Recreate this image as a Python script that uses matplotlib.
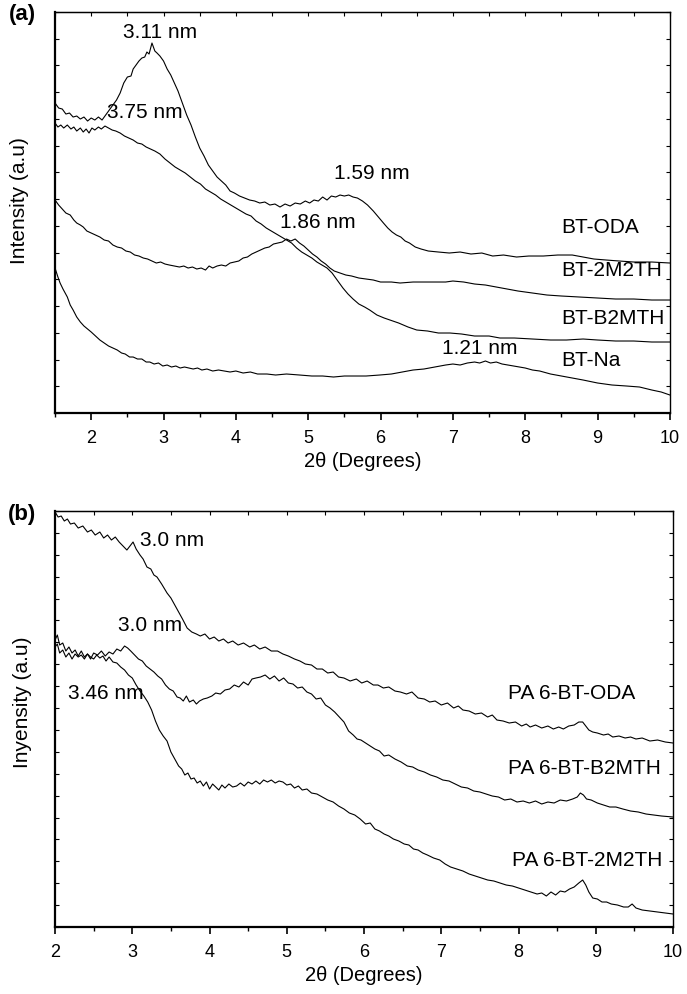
import matplotlib.pyplot as plt
from matplotlib.ticker import MultipleLocator, NullFormatter

plt.rcParams['font.family'] = ['Liberation Sans', 'DejaVu Sans']

# ---- panel (a): modified bentonites, 2theta vs intensity (a.u.) ----
oda_x = [1.50, 1.55, 1.60, 1.65, 1.70, 1.75, 1.80, 1.85, 1.90, 1.95, 2.00, 2.05, 2.10, 2.15, 2.20, 2.25,
         2.30, 2.35, 2.40, 2.45, 2.50, 2.55, 2.58, 2.62, 2.66, 2.70, 2.74, 2.77, 2.80, 2.84, 2.88, 2.91,
         2.95, 3.00, 3.05, 3.10, 3.15, 3.20, 3.26, 3.32, 3.38, 3.44, 3.50, 3.56, 3.62, 3.68, 3.74, 3.80,
         3.86, 3.92, 3.98, 4.05, 4.12, 4.19, 4.26, 4.33, 4.40, 4.47, 4.54, 4.61, 4.68, 4.75, 4.82, 4.89,
         4.96, 5.02, 5.08, 5.14, 5.20, 5.26, 5.32, 5.38, 5.44, 5.50, 5.56, 5.62, 5.68, 5.75, 5.82, 5.90,
         5.97, 6.04, 6.10, 6.16, 6.22, 6.28, 6.34, 6.40, 6.48, 6.56, 6.66, 6.80, 6.95, 7.10, 7.25, 7.40,
         7.55, 7.70, 7.88, 8.05, 8.25, 8.45, 8.65, 8.80, 8.95, 9.12, 9.30, 9.50, 9.75, 10.00]
oda_y = [310, 305, 304, 299, 300, 296, 297, 294, 296, 292, 295, 293, 296, 293, 298, 303,
         308, 313, 320, 330, 336, 337, 344, 348, 352, 355, 356, 361, 359, 370, 362, 360,
         357, 352, 344, 338, 330, 322, 310, 298, 288, 276, 265, 257, 248, 242, 236, 232,
         228, 222, 220, 217, 215, 213, 212, 210, 211, 208, 209, 206, 209, 207, 210, 209,
         212, 210, 213, 212, 216, 213, 217, 216, 218, 217, 218, 216, 215, 212, 208, 202,
         196, 190, 185, 181, 178, 176, 172, 170, 166, 164, 162, 161, 160, 161, 159, 160,
         157, 158, 156, 157, 157, 158, 158, 156, 154, 153, 152, 151, 151, 150]

b2mth_x = [1.50, 1.54, 1.58, 1.62, 1.67, 1.72, 1.76, 1.80, 1.85, 1.89, 1.93, 1.97, 2.01, 2.05, 2.10, 2.14,
           2.19, 2.24, 2.29, 2.34, 2.40, 2.46, 2.52, 2.58, 2.64, 2.70, 2.76, 2.82, 2.88, 2.95, 3.02, 3.09,
           3.16, 3.23, 3.30, 3.37, 3.44, 3.51, 3.58, 3.65, 3.72, 3.79, 3.86, 3.93, 4.00, 4.07, 4.14, 4.21,
           4.28, 4.35, 4.42, 4.49, 4.56, 4.63, 4.70, 4.77, 4.84, 4.91, 4.98, 5.05, 5.12, 5.19, 5.26, 5.33,
           5.40, 5.48, 5.55, 5.62, 5.70, 5.78, 5.85, 5.95, 6.05, 6.13, 6.25, 6.38, 6.50, 6.65, 6.80, 6.96,
           7.12, 7.30, 7.50, 7.65, 7.85, 8.10, 8.35, 8.57, 8.80, 9.00, 9.25, 9.50, 9.75, 10.00]
b2mth_y = [290, 286, 288, 285, 288, 284, 286, 282, 285, 281, 284, 280, 285, 283, 286, 284,
           287, 285, 283, 282, 280, 277, 275, 273, 270, 269, 266, 264, 262, 259, 254, 250,
           246, 243, 240, 236, 232, 229, 224, 221, 218, 214, 211, 208, 205, 202, 199, 197,
           192, 189, 185, 182, 179, 176, 173, 170, 165, 161, 158, 155, 151, 148, 145, 140,
           133, 125, 119, 114, 109, 106, 103, 98, 95, 93, 90, 86, 83, 82, 80, 80,
           79, 77, 77, 75, 75, 74, 73, 73, 74, 73, 72, 72, 71, 71]

m2th_x = [1.50, 1.55, 1.60, 1.65, 1.71, 1.76, 1.80, 1.85, 1.89, 1.94, 2.00, 2.06, 2.12, 2.18, 2.24, 2.30,
          2.36, 2.42, 2.48, 2.54, 2.60, 2.66, 2.72, 2.78, 2.84, 2.90, 2.96, 3.02, 3.08, 3.15, 3.22, 3.28,
          3.34, 3.40, 3.46, 3.52, 3.58, 3.63, 3.68, 3.74, 3.80, 3.86, 3.92, 3.98, 4.04, 4.10, 4.16, 4.22,
          4.28, 4.34, 4.40, 4.46, 4.52, 4.58, 4.64, 4.70, 4.76, 4.82, 4.88, 4.94, 5.00, 5.06, 5.12, 5.18,
          5.24, 5.30, 5.36, 5.44, 5.52, 5.60, 5.70, 5.80, 5.90, 6.00, 6.15, 6.27, 6.45, 6.60, 6.75, 6.90,
          7.00, 7.15, 7.30, 7.45, 7.60, 7.75, 7.90, 8.10, 8.30, 8.50, 8.75, 9.00, 9.25, 9.50, 9.75, 10.00]
m2th_y = [213, 208, 204, 200, 198, 193, 190, 188, 186, 182, 180, 178, 176, 173, 172, 168,
          166, 165, 162, 161, 158, 157, 155, 154, 152, 150, 151, 149, 148, 147, 146, 147,
          145, 146, 144, 145, 143, 147, 145, 147, 148, 147, 150, 151, 152, 155, 156, 159,
          161, 163, 165, 166, 169, 170, 171, 174, 172, 174, 170, 167, 163, 159, 156, 152,
          149, 145, 142, 140, 138, 137, 135, 134, 133, 131, 131, 130, 131, 131, 131, 131,
          132, 131, 129, 128, 126, 124, 122, 120, 118, 117, 116, 115, 114, 114, 113, 113]

na_x = [1.50, 1.54, 1.57, 1.61, 1.64, 1.67, 1.71, 1.75, 1.80, 1.85, 1.90, 1.95, 2.00, 2.06, 2.12, 2.18,
        2.24, 2.30, 2.36, 2.42, 2.47, 2.53, 2.58, 2.64, 2.70, 2.76, 2.81, 2.87, 2.93, 2.99, 3.05, 3.11,
        3.17, 3.23, 3.29, 3.35, 3.41, 3.47, 3.53, 3.60, 3.68, 3.76, 3.84, 3.92, 4.00, 4.10, 4.20, 4.30,
        4.43, 4.55, 4.70, 4.88, 5.05, 5.20, 5.35, 5.50, 5.65, 5.80, 5.99, 6.15, 6.30, 6.45, 6.60, 6.75,
        6.90, 7.00, 7.10, 7.20, 7.30, 7.37, 7.45, 7.52, 7.60, 7.68, 7.76, 7.84, 7.92, 8.00, 8.10, 8.20,
        8.35, 8.50, 8.65, 8.80, 9.00, 9.20, 9.40, 9.58, 9.75, 9.88, 10.00]
na_y = [145, 136, 130, 124, 120, 116, 108, 103, 96, 91, 87, 84, 81, 77, 73, 70,
        67, 65, 63, 60, 59, 56, 56, 54, 54, 51, 51, 49, 50, 47, 48, 46,
        47, 45, 46, 45, 44, 45, 43, 44, 42, 43, 42, 41, 42, 40, 41, 39,
        39, 38, 39, 38, 37, 37, 36, 37, 37, 37, 38, 39, 41, 43, 44, 46,
        48, 49, 48, 50, 51, 50, 52, 50, 51, 49, 48, 47, 46, 45, 43, 42,
        39, 37, 35, 33, 30, 28, 27, 26, 23, 21, 18]

# ---- panel (b): PA 6 nanocomposites ----
pa_oda_x = [2.00, 2.04, 2.08, 2.12, 2.16, 2.20, 2.25, 2.30, 2.36, 2.42, 2.47, 2.52, 2.58, 2.63, 2.68, 2.73,
            2.78, 2.83, 2.88, 2.93, 2.97, 3.01, 3.05, 3.10, 3.14, 3.19, 3.24, 3.28, 3.32, 3.38, 3.45, 3.50,
            3.55, 3.60, 3.65, 3.71, 3.77, 3.83, 3.88, 3.94, 4.00, 4.06, 4.12, 4.18, 4.24, 4.30, 4.37, 4.44,
            4.52, 4.58, 4.65, 4.72, 4.80, 4.88, 4.95, 5.02, 5.10, 5.17, 5.24, 5.32, 5.39, 5.46, 5.53, 5.60,
            5.67, 5.74, 5.82, 5.90, 5.97, 6.04, 6.12, 6.18, 6.25, 6.32, 6.40, 6.47, 6.55, 6.62, 6.70, 6.78,
            6.85, 6.92, 7.00, 7.08, 7.16, 7.22, 7.28, 7.36, 7.44, 7.52, 7.60, 7.66, 7.72, 7.80, 7.88, 7.96,
            8.04, 8.10, 8.15, 8.22, 8.30, 8.38, 8.45, 8.52, 8.58, 8.65, 8.72, 8.78, 8.83, 8.87, 8.91, 8.96,
            9.02, 9.10, 9.16, 9.22, 9.30, 9.38, 9.45, 9.52, 9.60, 9.70, 9.80, 9.90, 10.00]
pa_oda_y = [415, 410, 411, 406, 408, 403, 404, 399, 401, 395, 397, 392, 395, 389, 392, 387,
            390, 385, 381, 377, 381, 385, 378, 372, 368, 360, 358, 352, 350, 343, 334, 329,
            322, 315, 308, 299, 295, 293, 291, 293, 288, 290, 286, 288, 284, 286, 282, 284,
            280, 282, 278, 280, 276, 276, 273, 271, 268, 266, 263, 262, 258, 258, 254, 255,
            250, 249, 246, 248, 244, 246, 242, 242, 239, 240, 236, 235, 233, 235, 229, 228,
            225, 226, 222, 224, 219, 221, 217, 216, 213, 214, 210, 212, 207, 206, 204, 205,
            201, 203, 200, 202, 199, 201, 198, 200, 198, 201, 202, 205, 205, 201, 197, 195,
            194, 192, 193, 190, 191, 189, 190, 188, 189, 186, 187, 185, 184]

pa_b2mth_x = [2.00, 2.03, 2.06, 2.10, 2.14, 2.18, 2.22, 2.26, 2.30, 2.34, 2.38, 2.42, 2.46, 2.50, 2.55, 2.60,
              2.65, 2.70, 2.75, 2.80, 2.85, 2.90, 2.94, 2.98, 3.03, 3.08, 3.13, 3.18, 3.23, 3.28, 3.33, 3.38,
              3.43, 3.48, 3.53, 3.58, 3.62, 3.66, 3.70, 3.74, 3.79, 3.83, 3.87, 3.92, 3.97, 4.03, 4.08, 4.14,
              4.20, 4.26, 4.32, 4.38, 4.44, 4.50, 4.55, 4.60, 4.66, 4.72, 4.78, 4.84, 4.90, 4.96, 5.02, 5.08,
              5.14, 5.20, 5.26, 5.32, 5.38, 5.44, 5.50, 5.56, 5.62, 5.68, 5.74, 5.80, 5.86, 5.91, 5.96, 6.02,
              6.08, 6.14, 6.20, 6.26, 6.32, 6.40, 6.48, 6.56, 6.63, 6.70, 6.78, 6.86, 6.94, 7.02, 7.10, 7.18,
              7.26, 7.34, 7.42, 7.50, 7.58, 7.66, 7.74, 7.82, 7.90, 7.98, 8.06, 8.14, 8.22, 8.30, 8.38, 8.46,
              8.54, 8.62, 8.70, 8.76, 8.80, 8.84, 8.88, 8.94, 9.02, 9.10, 9.18, 9.26, 9.35, 9.45, 9.55, 9.65,
              9.75, 9.85, 10.00]
pa_b2mth_y = [287, 292, 282, 284, 276, 280, 274, 277, 271, 276, 270, 273, 268, 274, 272, 276,
              271, 275, 273, 278, 276, 281, 279, 276, 272, 268, 266, 261, 258, 255, 251, 248,
              242, 238, 236, 230, 229, 226, 231, 225, 227, 223, 226, 228, 229, 231, 234, 233,
              237, 238, 242, 240, 245, 242, 248, 249, 250, 252, 248, 251, 246, 249, 244, 243,
              239, 240, 235, 233, 228, 229, 222, 219, 215, 210, 205, 196, 192, 188, 187, 184,
              181, 178, 176, 171, 172, 168, 165, 161, 160, 157, 155, 152, 150, 147, 146, 143,
              140, 139, 136, 135, 133, 131, 130, 127, 128, 125, 126, 124, 126, 123, 125, 124,
              127, 126, 128, 130, 134, 132, 128, 127, 124, 122, 120, 120, 118, 116, 115, 113,
              112, 111, 110]

pa_m2th_x = [2.00, 2.03, 2.06, 2.10, 2.14, 2.18, 2.22, 2.26, 2.30, 2.34, 2.38, 2.42, 2.46, 2.50, 2.54, 2.58,
             2.62, 2.66, 2.70, 2.75, 2.80, 2.85, 2.90, 2.95, 3.00, 3.05, 3.10, 3.15, 3.20, 3.25, 3.30, 3.35,
             3.40, 3.45, 3.50, 3.55, 3.60, 3.64, 3.68, 3.72, 3.76, 3.80, 3.84, 3.88, 3.92, 3.96, 4.00, 4.04,
             4.08, 4.12, 4.16, 4.20, 4.25, 4.30, 4.35, 4.40, 4.45, 4.50, 4.55, 4.60, 4.65, 4.70, 4.75, 4.80,
             4.85, 4.90, 4.95, 5.00, 5.05, 5.10, 5.15, 5.20, 5.26, 5.32, 5.39, 5.46, 5.53, 5.60, 5.67, 5.74,
             5.81, 5.88, 5.95, 6.02, 6.08, 6.14, 6.20, 6.26, 6.32, 6.38, 6.45, 6.52, 6.58, 6.64, 6.70, 6.76,
             6.82, 6.90, 6.98, 7.05, 7.12, 7.20, 7.28, 7.36, 7.44, 7.52, 7.60, 7.68, 7.76, 7.84, 7.92, 8.00,
             8.08, 8.16, 8.24, 8.30, 8.36, 8.42, 8.48, 8.54, 8.60, 8.66, 8.72, 8.78, 8.83, 8.87, 8.91, 8.96,
             9.02, 9.08, 9.14, 9.20, 9.28, 9.36, 9.42, 9.47, 9.52, 9.60, 9.70, 9.80, 9.90, 10.00]
pa_m2th_y = [280, 283, 274, 277, 270, 274, 268, 273, 270, 272, 268, 273, 270, 268, 272, 269,
             271, 266, 270, 265, 264, 260, 257, 252, 249, 242, 236, 231, 225, 217, 206, 197,
             191, 186, 175, 168, 161, 158, 152, 154, 148, 149, 144, 146, 141, 145, 138, 143,
             140, 137, 142, 139, 143, 140, 141, 144, 141, 145, 143, 146, 143, 147, 145, 147,
             144, 146, 145, 142, 143, 139, 141, 137, 138, 134, 133, 130, 127, 125, 121, 118,
             114, 112, 108, 103, 104, 98, 96, 93, 91, 88, 86, 83, 82, 78, 77, 74,
             72, 69, 67, 63, 60, 58, 56, 53, 51, 49, 47, 46, 44, 42, 41, 39,
             37, 35, 33, 34, 31, 35, 32, 36, 35, 38, 40, 44, 47, 42, 35, 29,
             28, 25, 25, 23, 22, 20, 20, 23, 19, 17, 16, 15, 14, 13]

fig = plt.figure(figsize=(6.87, 9.94), dpi=100)
ax1 = fig.add_axes([0.0801, 0.5845, 0.895, 0.4034])
ax2 = fig.add_axes([0.0801, 0.0674, 0.8996, 0.4185])

lw = 0.8
for x, y in [(oda_x, oda_y), (b2mth_x, b2mth_y), (m2th_x, m2th_y), (na_x, na_y)]:
    ax1.plot(x, y, color='black', lw=lw)
for x, y in [(pa_oda_x, pa_oda_y), (pa_b2mth_x, pa_b2mth_y), (pa_m2th_x, pa_m2th_y)]:
    ax2.plot(x, y, color='black', lw=lw)

ax1.set_xlim(1.5, 10)
ax1.set_ylim(0, 401)
ax2.set_xlim(2, 10)
ax2.set_ylim(0, 416)

for ax, ystep in [(ax1, 401 / 15), (ax2, 416 / 19)]:
    ax.xaxis.set_major_locator(MultipleLocator(1))
    ax.xaxis.set_minor_locator(MultipleLocator(0.5))
    ax.yaxis.set_major_locator(MultipleLocator(ystep))
    ax.yaxis.set_major_formatter(NullFormatter())
    ax.tick_params(axis='x', which='major', direction='out', length=5, width=1.2, labelsize=13, pad=7)
    ax.tick_params(axis='x', which='minor', direction='out', length=3, width=1.0)
    ax.tick_params(axis='y', which='major', direction='in', length=3, width=0.8, right=True)
    for s in ax.spines.values():
        s.set_linewidth(1.0)
    ax.spines['left'].set_linewidth(1.6)
    ax.spines['bottom'].set_linewidth(1.6)
    top = ax.secondary_xaxis('top')
    top.xaxis.set_major_locator(MultipleLocator(0.5))
    top.tick_params(direction='in', length=3, width=0.8, labeltop=False)
    ax.set_xlabel('2\u03b8 (Degrees)', fontsize=14.5, labelpad=4)

ax1.set_ylabel('Intensity (a.u)', fontsize=15)
ax2.set_ylabel('Inyensity (a.u)', fontsize=15)
ax1.yaxis.set_label_coords(-0.042, 0.53)
ax2.yaxis.set_label_coords(-0.037, 0.54)

tk = dict(fontsize=15, ha='center', va='center')
ax1.text(2.95, 381, '3.11 nm', **tk)
ax1.text(2.74, 301, '3.75 nm', **tk)
ax1.text(5.88, 240, '1.59 nm', **tk)
ax1.text(5.13, 191, '1.86 nm', **tk)
ax1.text(7.37, 65, '1.21 nm', **tk)
lk = dict(fontsize=15, ha='left', va='center')
ax1.text(8.5, 186, 'BT-ODA', **lk)
ax1.text(8.5, 143, 'BT-2M2TH', **lk)
ax1.text(8.5, 95, 'BT-B2MTH', **lk)
ax1.text(8.5, 53, 'BT-Na', **lk)

ax2.text(3.51, 387, '3.0 nm', **tk)
ax2.text(3.23, 302, '3.0 nm', **tk)
ax2.text(2.66, 234, '3.46 nm', **tk)
ax2.text(7.86, 234, 'PA 6-BT-ODA', **lk)
ax2.text(7.86, 159, 'PA 6-BT-B2MTH', **lk)
ax2.text(7.92, 67, 'PA 6-BT-2M2TH', **lk)

fig.text(0.032, 0.985, '(a)', fontsize=16, fontweight='bold', ha='center', va='center')
fig.text(0.032, 0.482, '(b)', fontsize=16, fontweight='bold', ha='center', va='center')

fig.savefig('out.png', dpi=100)
plt.close(fig)
